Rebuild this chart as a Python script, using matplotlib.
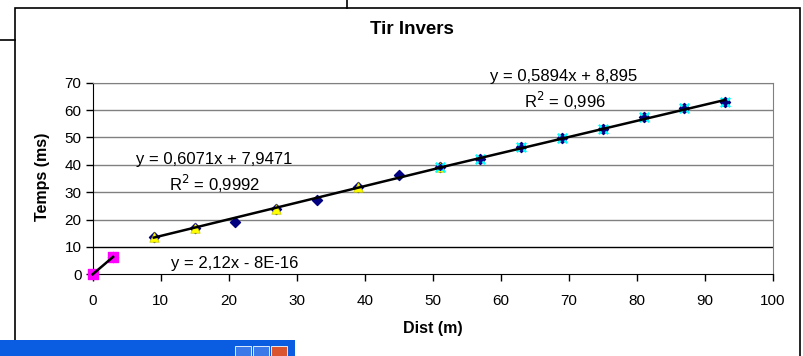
import numpy as np
import matplotlib
matplotlib.use('Agg')
import matplotlib.pyplot as plt
from matplotlib.patches import Rectangle

plt.rcParams['font.family'] = ['Liberation Sans', 'DejaVu Sans']

# data
dist_all = [0, 3, 9, 15, 21, 27, 33, 39, 45, 51, 57, 63, 69, 75, 81, 87, 93]
temps_all = [0, 6.4, 13.7, 16.8, 19.2, 23.9, 27.1, 32.0, 36.3, 39.1, 42.0, 46.6,
             49.7, 53.1, 57.4, 60.6, 63.1]

dist_sq = [0, 3]
temps_sq = [0, 6.36]

dist_tri = [9, 15, 27, 39, 51]
temps_tri = [13.7, 16.8, 23.9, 32.0, 39.1]

dist_x = [51, 57, 63, 69, 75, 81, 87, 93]
temps_x = [39.1, 42.0, 46.6, 49.7, 53.1, 57.4, 60.6, 63.1]

# trendlines: slope, intercept, x range
trend_slope = [2.12, 0.6071, 0.5894]
trend_inter = [0.0, 7.9471, 8.895]
trend_from = [0, 9, 51]
trend_to = [3, 51, 93]
trend_eq = ['y = 2,12x - 8E-16', 'y = 0,6071x + 7,9471', 'y = 0,5894x + 8,895']
trend_r2 = [None, '0,9992', '0,996']

fig = plt.figure(figsize=(8.04, 3.56), dpi=100)

# chart frame and screenshot leftovers
fig.add_artist(Rectangle((15/804, -0.1), 785/804, 1.1 - 8/356, transform=fig.transFigure,
                         fill=False, edgecolor='black', linewidth=1.2))
fig.add_artist(plt.Line2D([347/804, 347/804], [1, 1 - 8/356], transform=fig.transFigure,
                          color='black', linewidth=1.2))
fig.add_artist(plt.Line2D([0, 15/804], [1 - 40/356, 1 - 40/356], transform=fig.transFigure,
                          color='black', linewidth=1.2))
fig.add_artist(Rectangle((0, 0), 295/804, 16/356, transform=fig.transFigure,
                         facecolor='#0a5ce0', edgecolor='none'))
for bx, bc in [(235, '#3b78e8'), (253, '#3b78e8'), (271, '#d9542f')]:
    fig.add_artist(Rectangle((bx/804, 0), 16/804, 10/356, transform=fig.transFigure,
                             facecolor=bc, edgecolor='white', linewidth=0.6))

ax = fig.add_axes([92.7/804, 1 - 274.3/356, 680/804, 191.6/356])

ax.set_xlim(0, 100)
ax.set_ylim(0, 70)
ax.set_xticks(np.arange(0, 101, 10))
ax.set_yticks(np.arange(0, 71, 10))

for yv in range(10, 71, 10):
    ax.axhline(yv, color='black' if yv == 10 else '#808080', linewidth=1, zorder=0)

ax.spines['top'].set_color('#808080')
ax.spines['right'].set_color('#808080')
ax.spines['left'].set_color('black')
ax.spines['bottom'].set_color('black')

ax.tick_params(direction='out', length=5, width=1, labelsize=11, colors='black', pad=9)
ax.tick_params(axis='y', pad=3)

# markers
ax.scatter(dist_all, temps_all, marker='D', s=26, color='#000080', zorder=3, clip_on=False)
ax.scatter(dist_sq, temps_sq, marker='s', s=42, color='#ff00ff', zorder=4, clip_on=False)
ax.scatter(dist_tri, temps_tri, marker='^', s=46, color='#ffff00', edgecolors='#c8c800',
           linewidths=0.5, zorder=4)
ax.scatter(dist_x, temps_x, marker='x', s=46, color='#00ffff', linewidths=1.6, zorder=4)
ax.scatter(dist_x, temps_x, marker='D', s=9, color='#000080', zorder=5)

# trendlines
for a, b, x0, x1 in zip(trend_slope, trend_inter, trend_from, trend_to):
    xs = np.array([x0, x1])
    ax.plot(xs, a * xs + b, color='black', linewidth=1.8, zorder=6, clip_on=False)

eq_size = 12
ax.text(20.9, 4.1, trend_eq[0], ha='center', va='center', fontsize=eq_size)
ax.text(17.8, 41.8, trend_eq[1], ha='center', va='center', fontsize=eq_size)
ax.text(17.9, 33.0, r'R$^2$ = ' + trend_r2[1], ha='center', va='center', fontsize=eq_size)
ax.text(69.2, 72.1, trend_eq[2], ha='center', va='center', fontsize=eq_size, clip_on=False)
ax.text(69.5, 63.3, r'R$^2$ = ' + trend_r2[2], ha='center', va='center', fontsize=eq_size)

fig.text(412/804, 1 - 30/356, 'Tir Invers', ha='center', va='center',
         fontsize=13.5, fontweight='bold')
fig.text(433/804, 1 - 328/356, 'Dist (m)', ha='center', va='center',
         fontsize=11.5, fontweight='bold')
fig.text(43/804, 1 - 177/356, 'Temps (ms)', ha='center', va='center', rotation=90,
         fontsize=11.5, fontweight='bold')

fig.savefig('out.png', dpi=100)
